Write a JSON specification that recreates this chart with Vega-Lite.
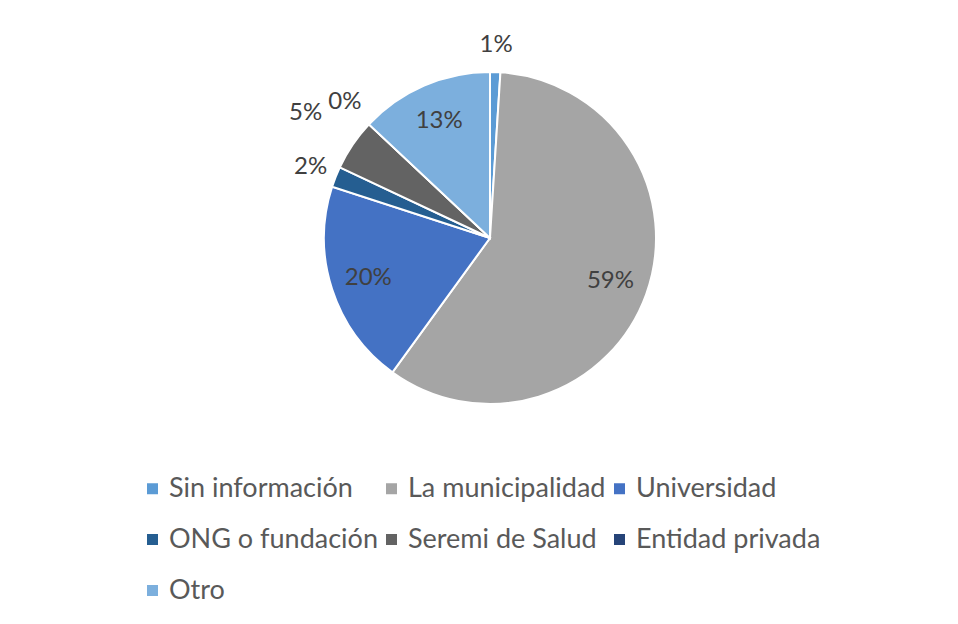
{
  "$schema": "https://vega.github.io/schema/vega-lite/v6.json",
  "width": 936,
  "height": 476,
  "autosize": {"type": "none"},
  "padding": {"left": 22, "top": 0, "right": 0, "bottom": 148},
  "background": "white",
  "config": {"view": {"stroke": null}, "font": "Lato"},
  "data": {"values": [
    {"idx": 1, "cat": "Sin información", "value": 0.01},
    {"idx": 2, "cat": "La municipalidad", "value": 0.59},
    {"idx": 3, "cat": "Universidad", "value": 0.20},
    {"idx": 4, "cat": "ONG o fundación", "value": 0.02},
    {"idx": 5, "cat": "Seremi de Salud", "value": 0.05},
    {"idx": 6, "cat": "Entidad privada", "value": 0.0},
    {"idx": 7, "cat": "Otro", "value": 0.13}
  ]},
  "encoding": {
    "theta": {"field": "value", "type": "quantitative", "stack": true},
    "order": {"field": "idx", "type": "quantitative"}
  },
  "layer": [
    {
      "mark": {"type": "arc", "outerRadius": 166, "stroke": "white", "strokeWidth": 2},
      "encoding": {
        "color": {
          "field": "cat", "type": "nominal",
          "scale": {
            "domain": ["Sin información", "La municipalidad", "Universidad", "ONG o fundación", "Seremi de Salud", "Entidad privada", "Otro"],
            "range": ["#5B9BD5", "#A5A5A5", "#4472C4", "#255E91", "#636363", "#264478", "#7CAFDD"]
          },
          "legend": {
            "title": null, "orient": "none", "legendX": 117, "legendY": 475,
            "columns": 3, "direction": "horizontal",
            "symbolType": "square", "symbolSize": 121, "symbolStrokeWidth": 0,
            "labelFontSize": 27, "labelColor": "#595959", "labelOffset": 3,
            "rowPadding": 23, "columnPadding": -8, "labelLimit": 400
          }
        }
      }
    },
    {
      "mark": {"type": "text", "radius": 128, "fontSize": 24, "fill": "#404040"},
      "encoding": {
        "text": {"condition": {"test": "datum.value >= 0.1", "field": "value", "type": "quantitative", "format": ".0%"}, "value": ""}
      }
    },
    {
      "mark": {"type": "text", "radius": 193, "fontSize": 24, "fill": "#404040"},
      "encoding": {
        "text": {"condition": {"test": "datum.value < 0.1 && datum.cat != 'Seremi de Salud' && datum.cat != 'Entidad privada'", "field": "value", "type": "quantitative", "format": ".0%"}, "value": ""}
      }
    },
    {
      "mark": {"type": "text", "radius": 199, "fontSize": 24, "fill": "#404040"},
      "encoding": {
        "text": {"condition": {"test": "datum.cat == 'Entidad privada'", "field": "value", "type": "quantitative", "format": ".0%"}, "value": ""}
      }
    },
    {
      "mark": {"type": "text", "radius": 223, "fontSize": 24, "fill": "#404040"},
      "encoding": {
        "text": {"condition": {"test": "datum.cat == 'Seremi de Salud'", "field": "value", "type": "quantitative", "format": ".0%"}, "value": ""}
      }
    }
  ]
}
